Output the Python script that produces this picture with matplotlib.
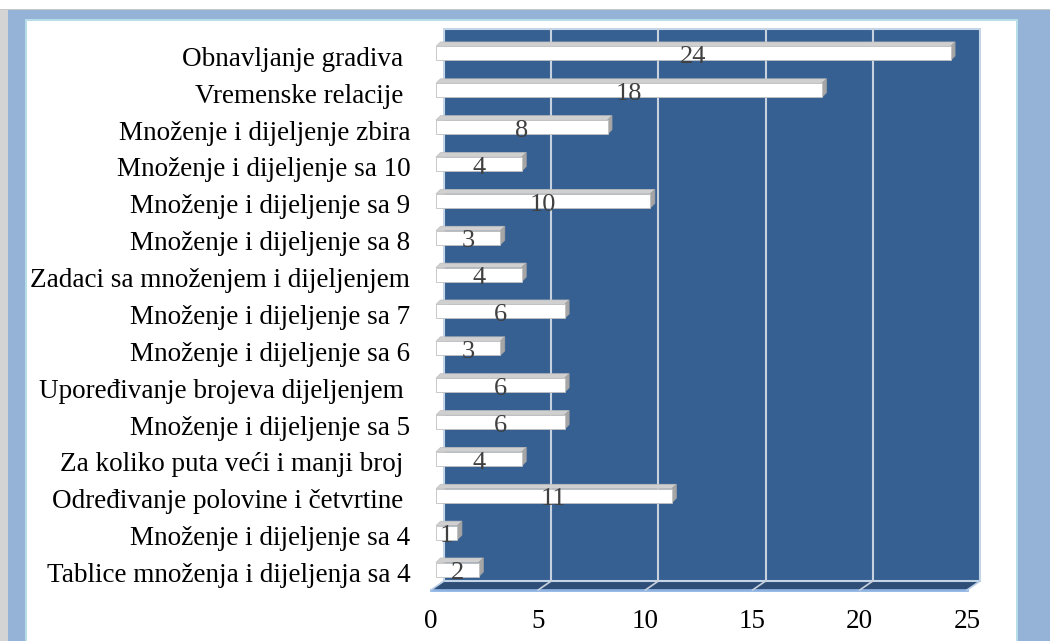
import numpy as np
import matplotlib
matplotlib.use('Agg')
import matplotlib.pyplot as plt
from matplotlib.patches import Polygon, Rectangle

plt.rcParams['font.family'] = ['Liberation Serif', 'DejaVu Serif']

# bottom to top
categories = ['Tablice množenja i dijeljenja sa 4',
              'Množenje i dijeljenje sa 4',
              'Određivanje polovine i četvrtine ',
              'Za koliko puta veći i manji broj ',
              'Množenje i dijeljenje sa 5',
              'Upoređivanje brojeva dijeljenjem ',
              'Množenje i dijeljenje sa 6',
              'Množenje i dijeljenje sa 7',
              'Zadaci sa množenjem i dijeljenjem',
              'Množenje i dijeljenje sa 8',
              'Množenje i dijeljenje sa 9',
              'Množenje i dijeljenje sa 10',
              'Množenje i dijeljenje zbira',
              'Vremenske relacije ',
              'Obnavljanje gradiva ']
values = [2, 1, 11, 4, 6, 6, 3, 6, 4, 3, 10, 4, 8, 18, 24]
xticks = [0, 5, 10, 15, 20, 25]

W, H = 1050, 641
fig = plt.figure(figsize=(W/100, H/100), dpi=100)
fig.patch.set_facecolor('white')

# frame around the chart (figure coords)
def frect(x0, y0, x1, y1, c):
    fig.patches.append(Rectangle((x0/W, 1-y1/H), (x1-x0)/W, (y1-y0)/H,
                                 transform=fig.transFigure, color=c, lw=0, zorder=0))
frect(0, 9, 8, H, '#D4D4D4')
frect(0, 9, W, 10, '#C8C8C8')
frect(8, 10, W, 20, '#95B3D7')
frect(8, 10, 25, H, '#95B3D7')
frect(1018, 10, W, H, '#95B3D7')
frect(25, 19, 1018, 21, '#B7DDE8')
frect(25, 19, 27, H, '#B7DDE8')
frect(1016, 19, 1018, H, '#B7DDE8')

# axes: x value 0 -> px 431, 25 -> px 967; rows 36.86 px apart
px_x = 21.44
px_y = 36.86
yb = (569.5 - 590) / px_y
yt = (569.5 - 29) / px_y
ax = fig.add_axes([431/W, (H-590)/H, 25*px_x/W, 561/H])
ax.set_xlim(0, 25)
ax.set_ylim(yb, yt)
ax.set_facecolor('none')
for s in ax.spines.values():
    s.set_visible(False)

DX, DY = 13/px_x, 9/px_y          # full depth
fx = 5/px_x                       # bar front offset
bx, by = 4.5/px_x, 4.5/px_y       # bar depth
bh = 14/px_y                      # bar height

# floor
ax.add_patch(Polygon([(0, yb), (25, yb), (25+DX, yb+DY), (DX, yb+DY)],
                     closed=True, fc='#2E4E78', ec='none', clip_on=False, zorder=1))
ax.plot([0, 25], [yb, yb], color='#8DB3E2', lw=2, clip_on=False, zorder=2)
ax.plot([25, 25+DX], [yb, yb+DY], color='#B9CDE5', lw=1.2, clip_on=False, zorder=2)
ax.plot([0, DX], [yb, yb+DY], color='#B9CDE5', lw=1.2, clip_on=False, zorder=2)
# back wall
ax.add_patch(Rectangle((DX, yb+DY), 25, yt-yb-DY, fc='#366092', ec='#C5D5E8',
                       lw=1.5, clip_on=False, zorder=1))
for t in xticks[1:-1]:
    ax.plot([t+DX, t+DX], [yb+DY, yt], color='#C8D2DE', lw=1.5, clip_on=False, zorder=2)
    ax.plot([t, t+DX], [yb, yb+DY], color='#C8D2DE', lw=1.2, clip_on=False, zorder=2)

# bars
for i, v in enumerate(values):
    y0, y1 = i - bh/2, i + bh/2
    x0, x1 = fx, v + fx
    ax.add_patch(Polygon([(x0, y1), (x1, y1), (x1+bx, y1+by), (x0+bx, y1+by)],
                         closed=True, fc='#D0D0D0', ec='#BFBFBF', lw=0.5, clip_on=False, zorder=3))
    ax.add_patch(Polygon([(x1, y0), (x1+bx, y0+by), (x1+bx, y1+by), (x1, y1)],
                         closed=True, fc='#A6A6A6', ec='#A0A0A0', lw=0.5, clip_on=False, zorder=3))
    ax.add_patch(Rectangle((x0, y0), v, bh, fc='white', ec='#C0C0C0', lw=0.6,
                           clip_on=False, zorder=4))
    ax.text(v/2 + fx, i - 0.1, str(v), ha='center', va='center', fontsize=19,
            color='#404040', zorder=5)

ax.set_yticks(np.arange(len(categories)) - 0.08)
ax.set_yticklabels(categories, fontsize=19.5)
ax.set_xticks(xticks)
ax.set_xticklabels([str(t) for t in xticks], fontsize=19.5)
ax.tick_params(axis='y', length=0, pad=15)
ax.tick_params(axis='x', length=0, pad=14)

plt.savefig('out.png', dpi=100)
